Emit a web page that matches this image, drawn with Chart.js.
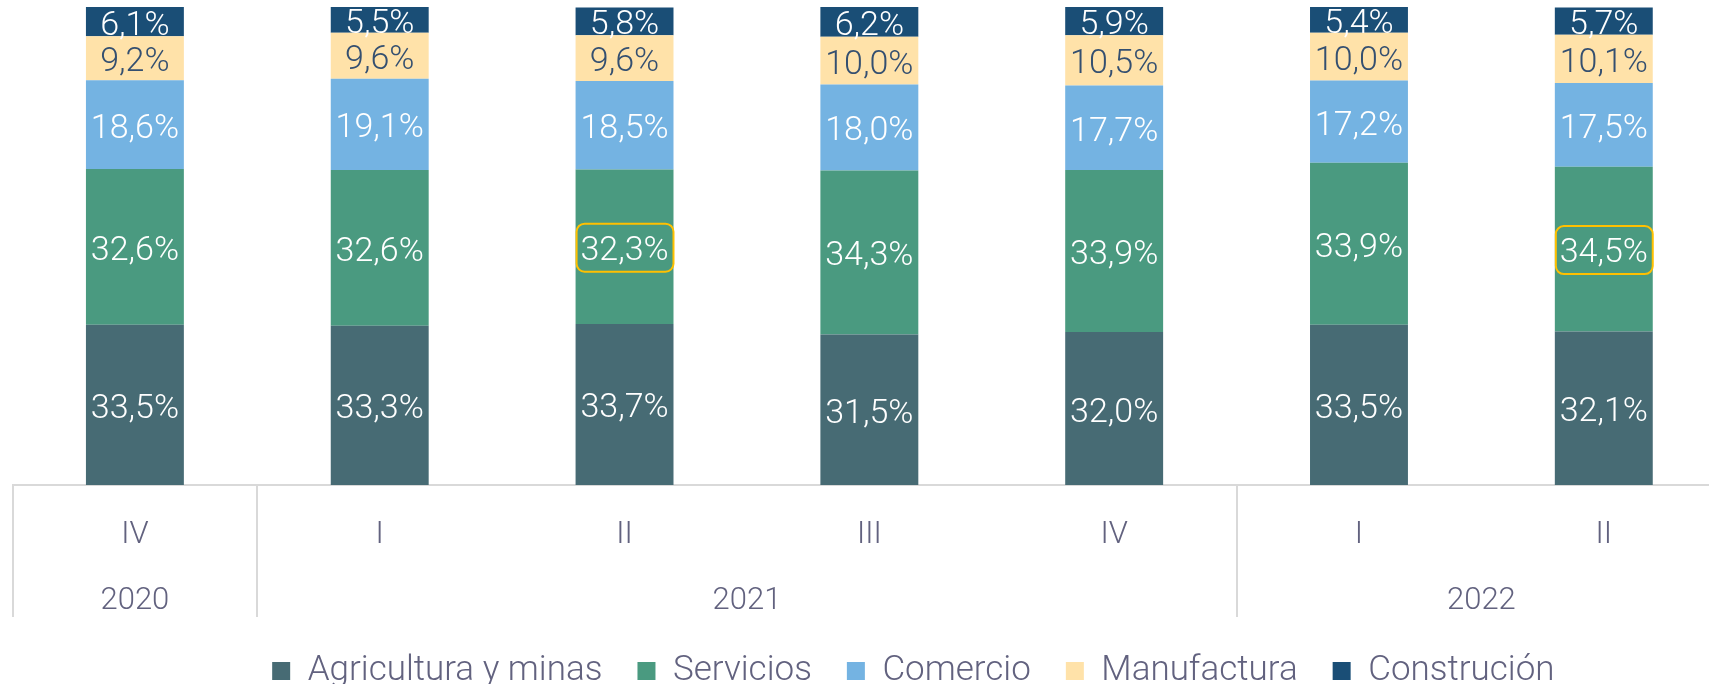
<!DOCTYPE html>
<html>
<head>
<meta charset="utf-8">
<script src="https://cdn.jsdelivr.net/npm/chart.js@4.4.1/dist/chart.umd.min.js"></script>
<style>
  html, body { margin: 0; padding: 0; overflow: hidden; background: #ffffff; width: 1709px; height: 684px; }
  #wrap { position: absolute; left: 0; top: 0; width: 1740px; height: 700px; }
</style>
</head>
<body>
<div id="wrap"><canvas id="c"></canvas></div>
<script>
// ---- data ----
const quarters = ['IV', 'I', 'II', 'III', 'IV', 'I', 'II'];
const years = ['2020', '2021', '2022'];
const yearCounts = [1, 4, 2];
const seriesNames = ['Agricultura y minas', 'Servicios', 'Comercio', 'Manufactura', 'Construción'];
const agricultura = [33.5, 33.3, 33.7, 31.5, 32.0, 33.5, 32.1];
const servicios   = [32.6, 32.6, 32.3, 34.3, 33.9, 33.9, 34.5];
const comercio    = [18.6, 19.1, 18.5, 18.0, 17.7, 17.2, 17.5];
const manufactura = [9.2, 9.6, 9.6, 10.0, 10.5, 10.0, 10.1];
const construccion = [6.1, 5.5, 5.8, 6.2, 5.9, 5.4, 5.7];
// highlighted labels: [datasetIndex, categoryIndex]
const highlighted = [[1, 2], [1, 6]];

// ---- styles ----
const colors = ['#476b74', '#4a9a80', '#74b3e2', '#ffe2a9', '#1a4e76'];
const labelColors = ['#ffffff', '#ffffff', '#ffffff', '#344f70', '#ffffff'];
const axisTextColor = '#62627f';
const sepColor = '#d9d9d9';
const FONT = 'Roboto';

// group boundaries derived from year counts
const boundaries = [0];
yearCounts.forEach(c => boundaries.push(boundaries[boundaries.length - 1] + c));
const yearCenters = years.map((y, i) => (boundaries[i] + boundaries[i + 1]) / 2);

const seriesValues = [agricultura, servicios, comercio, manufactura, construccion];

const fmt = v => v.toFixed(1).replace('.', ',') + '%';

const dataLabels = {
  id: 'dataLabels',
  afterDatasetsDraw(chart) {
    const ctx = chart.ctx;
    ctx.save();
    ctx.font = '300 34px ' + FONT;
    ctx.textAlign = 'center';
    ctx.textBaseline = 'middle';
    chart.data.datasets.forEach((ds, di) => {
      const meta = chart.getDatasetMeta(di);
      meta.data.forEach((el, i) => {
        const v = ds.data[i];
        const cx = el.x;
        const cy = (el.y + el.base) / 2;
        if (highlighted.some(h => h[0] === di && h[1] === i)) {
          const w = el.width;
          const h = 48;
          ctx.beginPath();
          ctx.roundRect(cx - w / 2 + 1, cy - h / 2 + 1, w - 1, h, 8);
          ctx.lineWidth = 2;
          ctx.strokeStyle = '#ffc000';
          ctx.stroke();
        }
        ctx.fillStyle = labelColors[di];
        ctx.fillText(fmt(v), cx, cy + 4.5);
      });
    });
    ctx.restore();
  }
};

const legendShift = {
  id: 'legendShift',
  afterLayout(chart) {
    const l = chart.legend;
    if (l) { l.left += 44; l.right += 44; }
  }
};

new Chart(document.getElementById('c'), {
  type: 'bar',
  data: {
    labels: quarters,
    datasets: seriesValues.map((vals, i) => ({
      label: seriesNames[i],
      data: vals,
      backgroundColor: colors[i],
      borderWidth: 0,
      barPercentage: 0.4,
      categoryPercentage: 1.0
    }))
  },
  options: {
    responsive: true,
    maintainAspectRatio: false,
    animation: false,
    layout: { padding: { top: 7, bottom: 1.5, left: 12.5, right: 13.8 } },
    plugins: {
      tooltip: { enabled: false },
      legend: {
        position: 'bottom',
        labels: {
          boxWidth: 18,
          boxHeight: 18,
          padding: 35,
          color: axisTextColor,
          font: { family: FONT, size: 35, weight: '300' }
        }
      }
    },
    scales: {
      x: {
        type: 'category',
        stacked: true,
        offset: true,
        weight: 0,
        grid: {
          offset: true,
          drawOnChartArea: false,
          drawTicks: true,
          tickLength: 132,
          lineWidth: 2,
          color: ctx => boundaries.includes(ctx.index) ? sepColor : 'rgba(0,0,0,0)'
        },
        border: { display: true, color: sepColor, width: 2 },
        ticks: {
          mirror: true,
          color: axisTextColor,
          font: { family: FONT, size: 31, weight: '300', lineHeight: 0.8 },
          padding: -62.9,
          autoSkip: false,
          maxRotation: 0
        }
      },
      x2: {
        type: 'linear',
        position: 'bottom',
        offset: false,
        min: 0,
        max: boundaries[boundaries.length - 1],
        weight: 1,
        afterBuildTicks: axis => {
          axis.ticks = yearCenters.map(v => ({ value: v }));
        },
        grid: {
          offset: false,
          drawOnChartArea: false,
          drawTicks: true,
          tickLength: 385.1,
          color: 'rgba(0,0,0,0)'
        },
        border: { display: false },
        ticks: {
          mirror: true,
          color: axisTextColor,
          font: { family: FONT, size: 31, weight: '300', lineHeight: 1.2 },
          padding: -128.9,
          autoSkip: false,
          maxRotation: 0,
          callback: v => {
            const k = yearCenters.indexOf(v);
            return k >= 0 ? years[k] : '';
          }
        }
      },
      y: { stacked: true, display: false, min: 0, max: 100 }
    }
  },
  plugins: [dataLabels, legendShift]
});
</script>
</body>
</html>
